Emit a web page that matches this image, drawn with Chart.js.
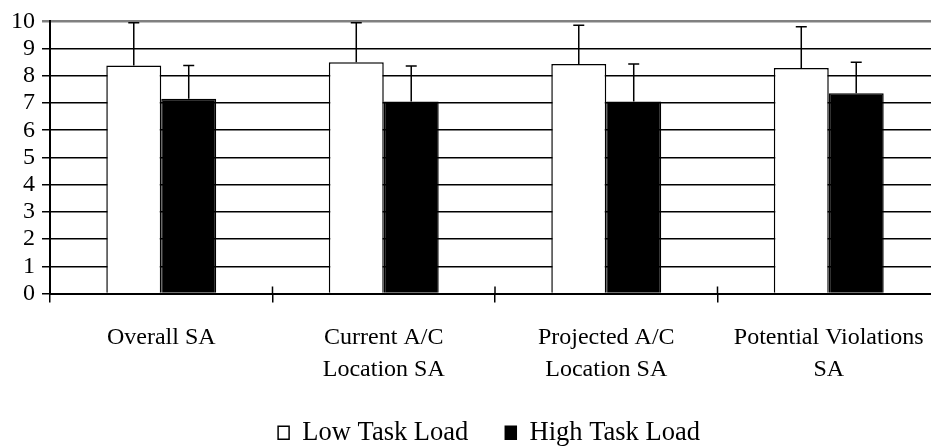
<!DOCTYPE html>
<html>
<head>
<meta charset="utf-8">
<script src="https://cdn.jsdelivr.net/npm/chart.js@4/dist/chart.umd.min.js"></script>
<style>
  html, body { margin: 0; padding: 0; background: #fff; overflow: hidden; }
  #wrap { width: 980px; height: 448px; }
</style>
</head>
<body>
<div id="wrap"><canvas id="c" width="980" height="448"></canvas></div>
<script>
const categories = ["Overall SA", ["Current A/C", "Location SA"], ["Projected A/C", "Location SA"], ["Potential Violations", "SA"]];
const seriesNames = ["Low Task Load", "High Task Load"];
const lowValues = [8.38, 8.50, 8.43, 8.29];
const lowSD = [1.57, 1.45, 1.43, 1.51];
const highValues = [7.16, 7.06, 7.06, 7.36];
const highSD = [1.22, 1.30, 1.37, 1.14];
const yTicks = [0, 1, 2, 3, 4, 5, 6, 7, 8, 9, 10];

const FONT = "'Liberation Serif', 'Times New Roman', serif";

const errorBars = {
  id: 'errorBars',
  afterDatasetsDraw(chart) {
    const ctx = chart.ctx;
    const yScale = chart.scales.y;
    ctx.save();
    ctx.strokeStyle = '#000';
    ctx.lineWidth = 1.5;
    chart.data.datasets.forEach((ds, di) => {
      const meta = chart.getDatasetMeta(di);
      meta.data.forEach((bar, i) => {
        const top = yScale.getPixelForValue(ds.data[i] + ds.sd[i]);
        const x = bar.x;
        ctx.beginPath();
        ctx.moveTo(x, bar.y);
        ctx.lineTo(x, top);
        ctx.moveTo(x - 5.5, top);
        ctx.lineTo(x + 5.5, top);
        ctx.stroke();
      });
    });
    ctx.restore();
  }
};

// x-axis tick marks that cross the axis line (upper part), at category boundaries
const crossTicks = {
  id: 'crossTicks',
  afterDraw(chart) {
    const xs = chart.scales.x;
    const ctx = chart.ctx;
    const n = chart.data.labels.length;
    const step = xs.getPixelForValue(1) - xs.getPixelForValue(0);
    ctx.save();
    ctx.strokeStyle = '#000';
    ctx.lineWidth = 1.5;
    for (let i = 1; i <= n; i++) {
      const px = xs.getPixelForValue(i) - step / 2;
      ctx.beginPath();
      ctx.moveTo(px, xs.top - 7);
      ctx.lineTo(px, xs.top);
      ctx.stroke();
    }
    ctx.restore();
  },
  afterLayout(chart) {
    if (chart.legend) { chart.legend.left -= 6; chart.legend.right -= 6; }
  }
};

new Chart(document.getElementById('c'), {
  type: 'bar',
  data: {
    labels: categories,
    datasets: [
      { label: seriesNames[0], data: lowValues, sd: lowSD, backgroundColor: '#fff', borderColor: '#000', borderWidth: 1.5 },
      { label: seriesNames[1], data: highValues, sd: highSD, backgroundColor: '#000', borderColor: '#000', borderWidth: 1.5 }
    ]
  },
  options: {
    responsive: false,
    animation: false,
    devicePixelRatio: 1,
    layout: { padding: { top: 19, left: 0, right: 40, bottom: -8 } },
    datasets: { bar: { categoryPercentage: 0.494, barPercentage: 1.0 } },
    plugins: {
      legend: {
        position: 'bottom',
        fullSize: false,
        labels: {
          color: '#000',
          font: { family: FONT, size: 26.5 },
          boxWidth: 11,
          boxHeight: 13,
          padding: 37
        }
      },
      tooltip: { enabled: false }
    },
    scales: {
      x: {
        grid: { offset: true, drawOnChartArea: false, color: '#000', lineWidth: 1.5, tickLength: 9 },
        border: { color: '#000', width: 2 },
        ticks: { color: '#000', font: { family: FONT, size: 24, lineHeight: 1.33 }, padding: 19, maxRotation: 0, autoSkip: false },
        afterFit(scale) { scale.height = 89; }
      },
      y: {
        min: 0, max: 10,
        afterBuildTicks(scale) { scale.ticks = yTicks.map(v => ({ value: v })); },
        grid: {
          color: (c) => (c.tick && c.tick.value === 10) ? '#808080' : '#000',
          lineWidth: (c) => (c.tick && c.tick.value === 10) ? 2.5 : 1.5,
          tickLength: 8
        },
        border: { color: '#000', width: 2 },
        ticks: { color: '#000', font: { family: FONT, size: 24 }, padding: 7, autoSkip: false, stepSize: 1 },
        afterFit(scale) { scale.width = 50; }
      }
    }
  },
  plugins: [errorBars, crossTicks]
});
</script>
</body>
</html>
